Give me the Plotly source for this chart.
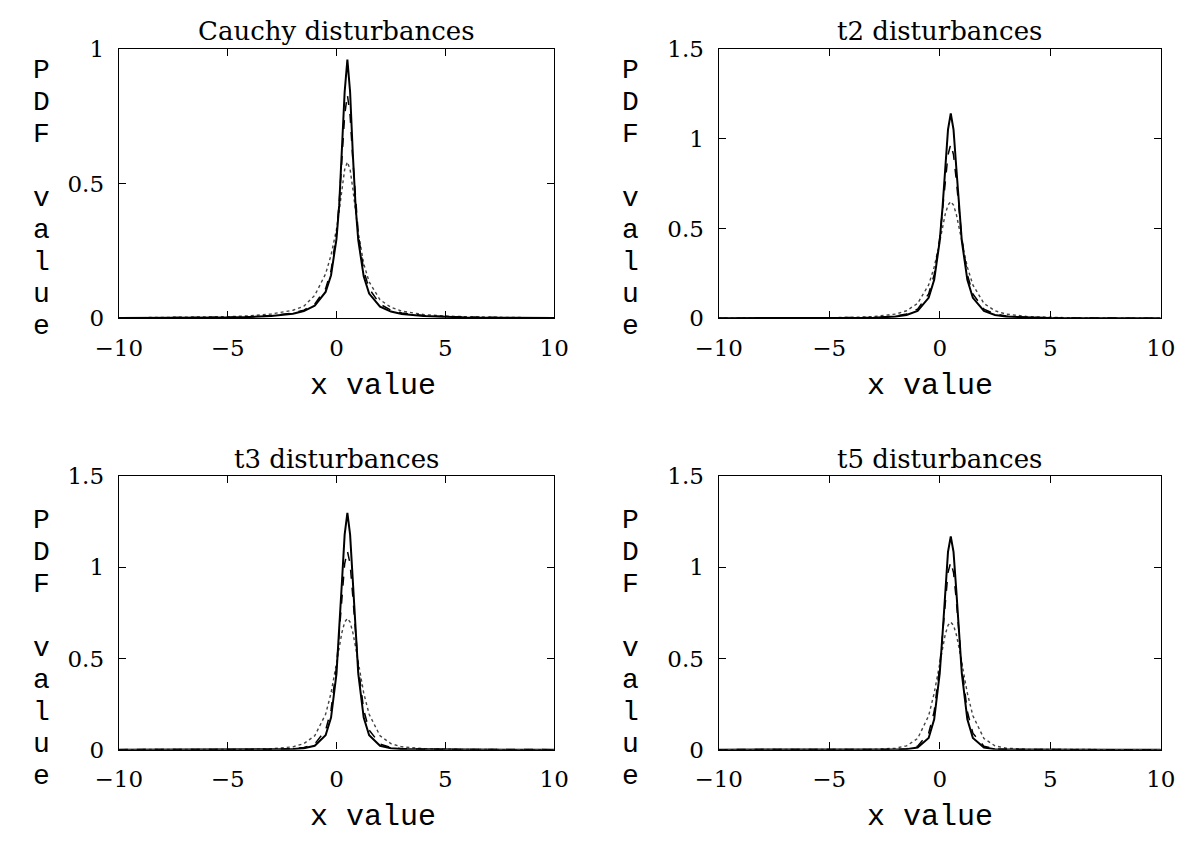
import plotly.graph_objects as go

# Shared evaluation grid for the density estimates
x_grid = [-10, -8, -6, -5, -4, -3, -2, -1.5, -1, -0.5, -0.25, 0, 0.125, 0.25, 0.375,
          0.5, 0.625, 0.75, 0.875, 1, 1.25, 1.5, 2, 2.5, 3, 4, 5, 6, 8, 10]

panel_titles = ["Cauchy disturbances", "t2 disturbances", "t3 disturbances", "t5 disturbances"]

# Cauchy disturbances
cauchy_solid = [0.001, 0.0014, 0.0025, 0.0034, 0.0051, 0.0088, 0.017, 0.027, 0.047, 0.098, 0.16, 0.295,
                0.42, 0.61, 0.84, 0.96, 0.84, 0.61, 0.419, 0.29, 0.156, 0.092, 0.043, 0.025, 0.016,
                0.0085, 0.005, 0.0034, 0.0019, 0.0012]
cauchy_dashed = [0.0011, 0.0017, 0.003, 0.0042, 0.0062, 0.0102, 0.0197, 0.0304, 0.0525, 0.110, 0.177, 0.314,
                 0.431, 0.588, 0.753, 0.83, 0.753, 0.588, 0.431, 0.314, 0.177, 0.110, 0.0525, 0.0304,
                 0.0197, 0.0102, 0.0062, 0.0042, 0.0022, 0.0014]
cauchy_dotted = [0.0016, 0.0024, 0.0041, 0.006, 0.009, 0.016, 0.03, 0.045, 0.085, 0.165, 0.235, 0.33,
                 0.40, 0.481, 0.552, 0.58, 0.552, 0.481, 0.396, 0.318, 0.203, 0.135, 0.0687, 0.0408,
                 0.0267, 0.014, 0.0085, 0.0057, 0.0031, 0.0019]

# t2 disturbances
t2_solid = [0.0001, 0.0003, 0.0006, 0.001, 0.0018, 0.0037, 0.0098, 0.0185, 0.041, 0.114, 0.214, 0.431,
            0.613, 0.838, 1.05, 1.14, 1.05, 0.838, 0.613, 0.431, 0.214, 0.114, 0.041, 0.0185, 0.0098,
            0.0037, 0.0018, 0.001, 0.0004, 0.0002]
t2_dashed = [0.0002, 0.0004, 0.0008, 0.0013, 0.0023, 0.0049, 0.0128, 0.024, 0.051, 0.136, 0.243, 0.447,
             0.60, 0.77, 0.91, 0.97, 0.91, 0.77, 0.60, 0.447, 0.243, 0.136, 0.051, 0.024, 0.0128,
             0.0049, 0.0023, 0.0013, 0.0005, 0.0003]
t2_dotted = [0.0005, 0.0008, 0.0016, 0.0025, 0.0046, 0.0094, 0.0236, 0.042, 0.083, 0.186, 0.285, 0.426,
             0.505, 0.58, 0.63, 0.65, 0.63, 0.58, 0.505, 0.426, 0.285, 0.186, 0.083, 0.042, 0.0236,
             0.0094, 0.0046, 0.0025, 0.001, 0.0006]

# t3 disturbances
t3_solid = [0.0, 0.0001, 0.0001, 0.0002, 0.0003, 0.0009, 0.0032, 0.0075, 0.021, 0.079, 0.176, 0.417,
            0.64, 0.92, 1.18, 1.30, 1.18, 0.92, 0.64, 0.417, 0.176, 0.079, 0.021, 0.0075, 0.0032,
            0.0009, 0.0003, 0.0002, 0.0001, 0.0]
t3_dashed = [0.0001, 0.0001, 0.0002, 0.0003, 0.0006, 0.0014, 0.005, 0.0114, 0.031, 0.107, 0.218, 0.455,
             0.64, 0.84, 1.02, 1.09, 1.02, 0.84, 0.64, 0.455, 0.218, 0.107, 0.031, 0.0114, 0.005,
             0.0014, 0.0006, 0.0003, 0.0001, 0.0001]
t3_dotted = [0.0001, 0.0001, 0.0004, 0.0009, 0.0018, 0.0048, 0.0156, 0.033, 0.076, 0.194, 0.311, 0.475,
             0.564, 0.643, 0.70, 0.72, 0.70, 0.643, 0.564, 0.475, 0.311, 0.194, 0.076, 0.033, 0.0156,
             0.0048, 0.0018, 0.0009, 0.0002, 0.0001]

# t5 disturbances
t5_solid = [0, 0, 0, 0, 0, 0.0001, 0.0008, 0.0027, 0.0115, 0.064, 0.166, 0.419, 0.629, 0.874, 1.085,
            1.17, 1.085, 0.874, 0.629, 0.419, 0.166, 0.064, 0.0115, 0.0027, 0.0008, 0.0001, 0, 0, 0, 0]
t5_dashed = [0, 0, 0, 0, 0, 0.0002, 0.0015, 0.0048, 0.0186, 0.09, 0.209, 0.455, 0.633, 0.822, 0.972,
             1.03, 0.972, 0.822, 0.633, 0.455, 0.209, 0.09, 0.0186, 0.0048, 0.0015, 0.0002, 0, 0, 0, 0]
t5_dotted = [0, 0, 0, 0, 0.0004, 0.0015, 0.0078, 0.021, 0.061, 0.186, 0.31, 0.474, 0.559, 0.632, 0.682,
             0.70, 0.682, 0.632, 0.559, 0.474, 0.31, 0.186, 0.061, 0.021, 0.0078, 0.0015, 0.0004, 0, 0, 0]

panel_series = [
    (cauchy_solid, cauchy_dashed, cauchy_dotted),
    (t2_solid, t2_dashed, t2_dotted),
    (t3_solid, t3_dashed, t3_dotted),
    (t5_solid, t5_dashed, t5_dotted),
]
y_max = [1, 1.5, 1.5, 1.5]
y_ticks = [[0, 0.5, 1], [0, 0.5, 1, 1.5], [0, 0.5, 1, 1.5], [0, 0.5, 1, 1.5]]
x_ticks = [-10, -5, 0, 5, 10]

W, H = 1199, 846
# plot-area boxes in pixels: (left, right, top, bottom)
boxes = [(98, 548, 37, 315), (718, 1175, 37, 315),
         (98, 548, 478, 760), (718, 1175, 478, 760)]
xlabel_cx = [361, 936, 361, 936]
ylabel_x = [18, 627, 18, 627]
# offset of the first stacked letter below the box top, per panel
ylabel_start = [22, 22, 46, 46]
LETTER_STEP = 33

SERIF = "DejaVu Serif"
MONO = "Liberation Mono"


def fx(p):
    return p / W


def fy(p):
    return 1 - p / H


fig = go.Figure()
annotations = []
for i, (solid, dashed, dotted) in enumerate(panel_series):
    n = "" if i == 0 else str(i + 1)
    xa, ya = "x" + n, "y" + n
    for ys, dash, width, color in [(dotted, "dot", 1.4, "#444444"),
                                   (dashed, "dash", 1.5, "#000000"),
                                   (solid, "solid", 2.0, "#000000")]:
        fig.add_trace(go.Scatter(x=x_grid, y=ys, mode="lines", xaxis=xa, yaxis=ya,
                                 line=dict(color=color, width=width, dash=dash),
                                 showlegend=False, hoverinfo="skip"))
    l, r, t, b = boxes[i]
    axis_common = dict(showline=True, linecolor="black", linewidth=1.3, mirror="ticks",
                       ticks="inside", ticklen=7, tickwidth=1.2, tickcolor="black",
                       showgrid=False, zeroline=False, ticklabelstandoff=9,
                       tickfont=dict(family=SERIF, size=23, color="black"))
    fig.update_layout({
        "xaxis" + n: dict(domain=[fx(l), fx(r)], range=[-10, 10], tickvals=x_ticks,
                          anchor=ya, **axis_common),
        "yaxis" + n: dict(domain=[fy(b), fy(t)], range=[0, y_max[i]], tickvals=y_ticks[i],
                          anchor=xa, **axis_common),
    })
    annotations.append(dict(text=panel_titles[i], x=fx((l + r) / 2), y=fy(t - 18),
                            xref="paper", yref="paper", showarrow=False,
                            xanchor="center", yanchor="middle",
                            font=dict(family=SERIF, size=26, color="black")))
    annotations.append(dict(text="x value", x=fx(xlabel_cx[i]), y=fy(b + 70),
                            xref="paper", yref="paper", showarrow=False,
                            xanchor="center", yanchor="middle",
                            font=dict(family=MONO, size=30, color="black")))
    # stacked vertical axis label, one character per row
    for k, ch in enumerate("PDF value"):
        if ch == " ":
            continue
        annotations.append(dict(text=ch, x=fx(ylabel_x[i]),
                                y=fy(t + ylabel_start[i] + k * LETTER_STEP),
                                xref="paper", yref="paper", showarrow=False,
                                xanchor="center", yanchor="middle",
                                font=dict(family=MONO, size=28, color="black")))

fig.update_layout(width=W, height=H, margin=dict(l=0, r=0, t=0, b=0),
                  paper_bgcolor="white", plot_bgcolor="white",
                  annotations=annotations)
fig.write_html("out.html")
